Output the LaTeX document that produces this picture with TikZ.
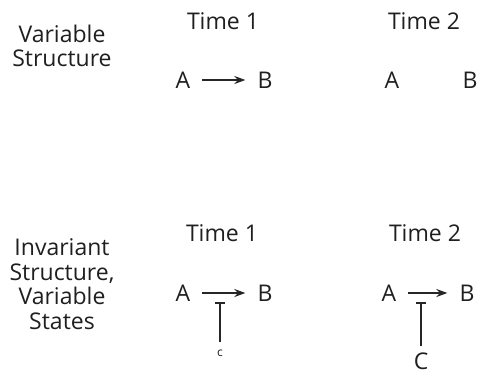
\documentclass[tikz,border=0pt]{standalone}
\usepackage{fontspec}
\setmainfont{Open Sans}
\usetikzlibrary{arrows.meta}

\tikzset{
  lbl/.style={font=\fontsize{23}{24.5}\selectfont, text=black!88, inner sep=0pt},
  var/.style={lbl, inner sep=12pt},
  act/.style={draw=black!85, line width=1.8pt, -{Stealth[length=11pt,width=8pt]}},
  inh/.style={draw=black!85, line width=1.8pt, -{Bar[width=10pt]}}
}

\begin{document}
\begin{tikzpicture}[x=1pt, y=-1pt]
  \useasboundingbox (0,0) rectangle (479,376);

  % row labels
  \node (vs) [lbl, align=center] at (62,46) {Variable\\Structure};
  \node (ivs) [lbl, align=center] at (62,284) {Invariant\\Structure,\\Variable\\States};

  % column headings
  \node (h11) [lbl] at (223,21) {Time 1};
  \node (h12) [lbl] at (424,21) {Time 2};
  \node (h21) [lbl] at (222,233) {Time 1};
  \node (h22) [lbl] at (425,233) {Time 2};

  % top row
  \node (a11) [var] at (183,80) {A};
  \node (b11) [var] at (265,80) {B};
  \node (a12) [var] at (392,80) {A};
  \node (b12) [var] at (470,80) {B};
  \draw[act] (a11) -- (b11);

  % bottom row
  \node (a21) [var] at (183,293) {A};
  \node (b21) [var] at (265,293) {B};
  \node (c21) [lbl, font=\fontsize{12}{13}\selectfont] at (220,353) {c};
  \draw[act] (a21) -- (b21);
  \coordinate (m21) at (220,302);
  \draw[inh] (220,342) -- (m21);

  \node (a22) [var] at (389,293) {A};
  \node (b22) [var] at (467,293) {B};
  \node (c22) [lbl] at (421,361) {C};
  \draw[act] (a22) -- (b22);
  \coordinate (m22) at (421,302);
  \draw[inh] (c22.north) ++(0,-6) -- (m22);
\end{tikzpicture}
\end{document}
